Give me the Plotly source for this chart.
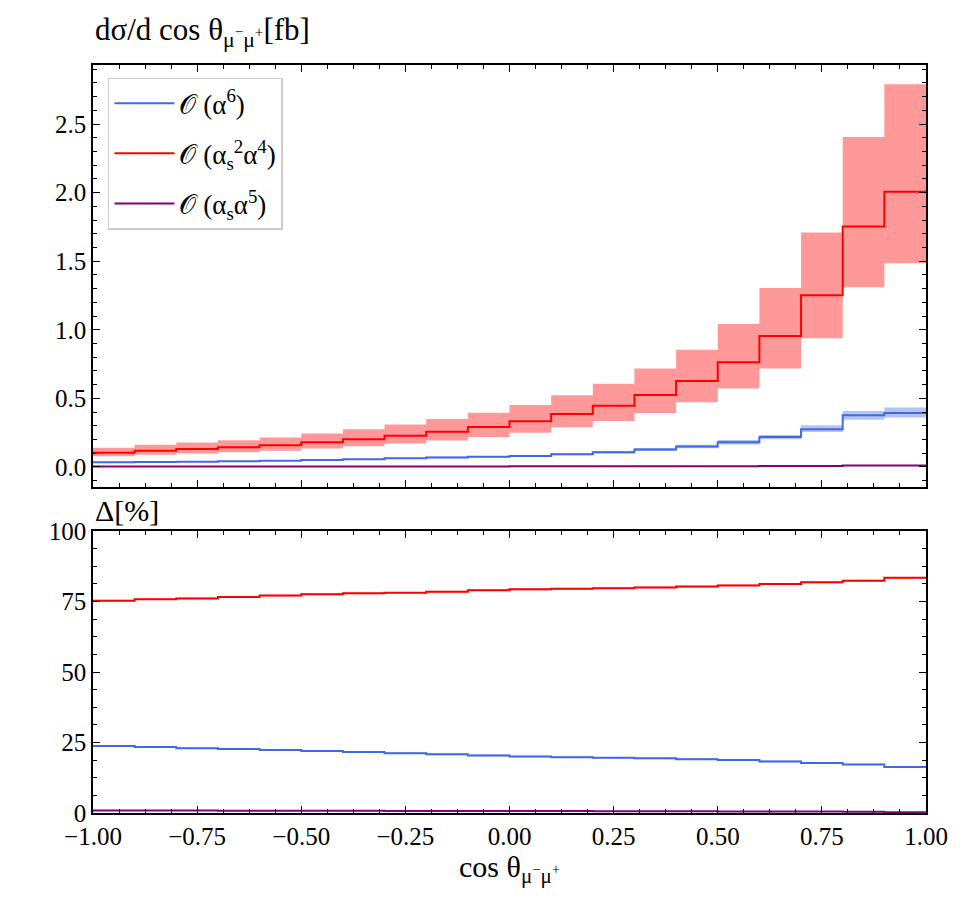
import plotly.graph_objects as go

# ---------------- data ----------------
bin_edges = [-1.0, -0.9, -0.8, -0.7, -0.6, -0.5, -0.4, -0.3, -0.2, -0.1, 0.0,
             0.1, 0.2, 0.3, 0.4, 0.5, 0.6, 0.7, 0.8, 0.9, 1.0]

# top panel: dsigma/dcos [fb]
red_central = [0.104, 0.119, 0.131, 0.143, 0.158, 0.180, 0.202, 0.228, 0.257, 0.291,
               0.333, 0.386, 0.447, 0.525, 0.627, 0.763, 0.955, 1.251, 1.752, 2.007]
red_upper = [0.141, 0.162, 0.178, 0.195, 0.215, 0.245, 0.275, 0.310, 0.350, 0.396,
             0.452, 0.522, 0.607, 0.717, 0.855, 1.042, 1.305, 1.710, 2.405, 2.790]
red_lower = [0.078, 0.089, 0.098, 0.107, 0.118, 0.135, 0.151, 0.171, 0.193, 0.218,
             0.250, 0.290, 0.335, 0.394, 0.471, 0.573, 0.717, 0.938, 1.310, 1.485]

blue_central = [0.034, 0.037, 0.039, 0.042, 0.046, 0.051, 0.056, 0.063, 0.070, 0.075,
                0.081, 0.093, 0.107, 0.127, 0.149, 0.180, 0.219, 0.275, 0.377, 0.394]
blue_upper = [0.036, 0.039, 0.042, 0.045, 0.049, 0.055, 0.060, 0.068, 0.076, 0.081,
              0.088, 0.101, 0.116, 0.138, 0.162, 0.196, 0.233, 0.304, 0.409, 0.434]
blue_lower = [0.032, 0.035, 0.036, 0.039, 0.043, 0.047, 0.052, 0.058, 0.064, 0.069,
              0.074, 0.085, 0.098, 0.116, 0.136, 0.164, 0.202, 0.255, 0.345, 0.360]

purple_central = [0.003, 0.003, 0.003, 0.003, 0.003, 0.004, 0.004, 0.004, 0.004, 0.004,
                  0.005, 0.005, 0.005, 0.005, 0.006, 0.006, 0.007, 0.008, 0.010, 0.010]

# bottom panel: fractions [%]
red_pct = [75.3, 75.8, 76.1, 76.6, 77.1, 77.6, 77.9, 78.1, 78.5, 79.0,
           79.3, 79.5, 79.7, 80.0, 80.3, 80.7, 81.2, 81.8, 82.4, 83.4]
blue_pct = [23.8, 23.4, 23.0, 22.7, 22.3, 22.0, 21.6, 21.2, 20.8, 20.4,
            20.0, 19.8, 19.6, 19.4, 19.1, 18.8, 18.3, 17.7, 17.2, 16.3]
purple_pct = [0.9, 0.9, 0.9, 0.8, 0.8, 0.8, 0.8, 0.7, 0.7, 0.7,
              0.7, 0.7, 0.6, 0.6, 0.6, 0.5, 0.5, 0.5, 0.4, 0.3]
red_pct_band = [0.3] * 20
blue_pct_band = [0.3] * 20

x_ticks = [-1.0, -0.75, -0.5, -0.25, 0.0, 0.25, 0.5, 0.75, 1.0]
y_top_ticks = [0.0, 0.5, 1.0, 1.5, 2.0, 2.5]
y_bot_ticks = [0, 25, 50, 75, 100]

legend_names = ["𝒪 (α<sup>6</sup>)", "𝒪 (α<sub>s</sub><sup>2</sup>α<sup>4</sup>)",
                "𝒪 (α<sub>s</sub>α<sup>5</sup>)"]

RED = "#ff0000"
RED_BAND = "rgba(255,0,0,0.4)"
BLUE = "#4169e1"
BLUE_BAND = "rgba(65,105,225,0.4)"
PURPLE = "#800080"
FONT = "Liberation Serif"


def step(vals):
    return list(vals) + [vals[-1]]


fig = go.Figure()


def band(lo, hi, color, xa, ya):
    fig.add_trace(go.Scatter(x=bin_edges, y=step(lo), mode="lines", line=dict(width=0, shape="hv"),
                             showlegend=False, hoverinfo="skip", xaxis=xa, yaxis=ya))
    fig.add_trace(go.Scatter(x=bin_edges, y=step(hi), mode="lines", line=dict(width=0, shape="hv"),
                             fill="tonexty", fillcolor=color, showlegend=False, hoverinfo="skip",
                             xaxis=xa, yaxis=ya))


# top panel
band(blue_lower, blue_upper, BLUE_BAND, "x", "y")
band(red_lower, red_upper, RED_BAND, "x", "y")
fig.add_trace(go.Scatter(x=bin_edges, y=step(blue_central), mode="lines",
                         line=dict(color=BLUE, width=2, shape="hv"), name=legend_names[0],
                         legendgroup="a", xaxis="x", yaxis="y"))
fig.add_trace(go.Scatter(x=bin_edges, y=step(red_central), mode="lines",
                         line=dict(color=RED, width=2, shape="hv"), name=legend_names[1],
                         legendgroup="b", xaxis="x", yaxis="y"))
fig.add_trace(go.Scatter(x=bin_edges, y=step(purple_central), mode="lines",
                         line=dict(color=PURPLE, width=2, shape="hv"), name=legend_names[2],
                         legendgroup="c", xaxis="x", yaxis="y"))

# bottom panel
band([b - d for b, d in zip(blue_pct, blue_pct_band)], [b + d for b, d in zip(blue_pct, blue_pct_band)],
     BLUE_BAND, "x2", "y2")
band([b - d for b, d in zip(red_pct, red_pct_band)], [b + d for b, d in zip(red_pct, red_pct_band)],
     RED_BAND, "x2", "y2")
for vals, col in [(blue_pct, BLUE), (red_pct, RED), (purple_pct, PURPLE)]:
    fig.add_trace(go.Scatter(x=bin_edges, y=step(vals), mode="lines",
                             line=dict(color=col, width=2, shape="hv"), showlegend=False,
                             xaxis="x2", yaxis="y2"))

axis_common = dict(showline=True, linecolor="black", linewidth=1.5, mirror="allticks",
                   ticks="inside", ticklen=7, tickwidth=1.2, tickcolor="black",
                   showgrid=False, zeroline=False,
                   tickfont=dict(family=FONT, size=25, color="black"))

fig.update_layout(
    width=960, height=900,
    margin=dict(l=93, r=28, t=65, b=87),
    plot_bgcolor="white", paper_bgcolor="white",
    font=dict(family=FONT, color="black"),
    xaxis=dict(domain=[0, 1], anchor="y", range=[-1, 1], tickvals=x_ticks, showticklabels=False,
               minor=dict(dtick=0.0625, tick0=-1, ticks="inside", ticklen=4, tickcolor="black"),
               **axis_common),
    yaxis=dict(domain=[0.4358, 1], anchor="x", range=[-0.146, 2.93], tickvals=y_top_ticks,
               tickformat=".1f",
               minor=dict(dtick=0.1, tick0=0, ticks="inside", ticklen=4, tickcolor="black"),
               **axis_common),
    xaxis2=dict(domain=[0, 1], anchor="y2", range=[-1, 1], tickvals=x_ticks, tickformat=".2f",
                minor=dict(dtick=0.0625, tick0=-1, ticks="inside", ticklen=4, tickcolor="black"),
                title=dict(text="cos θ<sub>μ<sup>−</sup>μ<sup>+</sup></sub>",
                           font=dict(family=FONT, size=30, color="black"), standoff=4),
                **axis_common),
    yaxis2=dict(domain=[0, 0.377], anchor="x2", range=[0, 100], tickvals=y_bot_ticks,
                minor=dict(dtick=6.25, tick0=0, ticks="inside", ticklen=4, tickcolor="black"),
                **axis_common),
    legend=dict(x=0.018, y=0.983, xref="paper", yref="paper", xanchor="left", yanchor="top",
                bordercolor="#cccccc", borderwidth=1.5, bgcolor="rgba(255,255,255,0.85)",
                font=dict(family=FONT, size=27, color="black"), tracegroupgap=12,
                itemwidth=60),
    annotations=[
        dict(text="dσ/d cos θ<sub>μ<sup>−</sup>μ<sup>+</sup></sub>[fb]", xref="paper", yref="paper",
             x=0, y=1.015, xanchor="left", yanchor="bottom", showarrow=False,
             font=dict(family=FONT, size=31, color="black")),
        dict(text="Δ[%]", xref="paper", yref="paper", x=0, y=0.38, xanchor="left", yanchor="bottom",
             showarrow=False, font=dict(family=FONT, size=30, color="black")),
    ],
)

fig.write_html("out.html")
